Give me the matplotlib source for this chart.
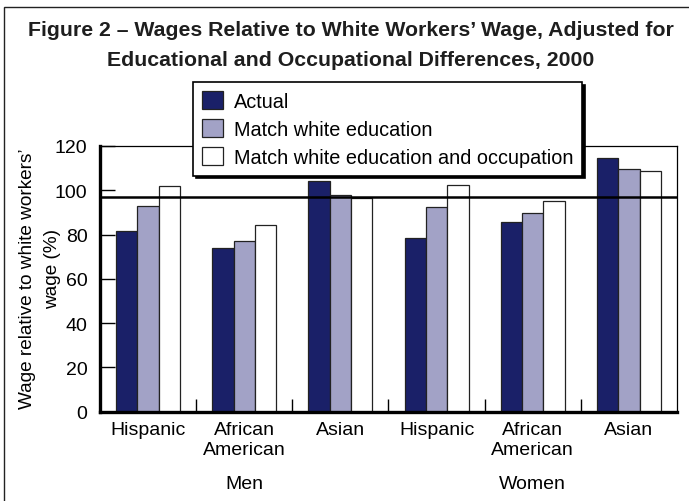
import numpy as np
import matplotlib
matplotlib.use("Agg")
import matplotlib.pyplot as plt
from matplotlib.patches import Rectangle
import matplotlib.transforms as mtransforms

plt.rcParams['font.family'] = ['Liberation Sans', 'DejaVu Sans']

groups = ['Hispanic', 'African\nAmerican', 'Asian', 'Hispanic', 'African\nAmerican', 'Asian']
sexes = ['Men', 'Women']
actual = [81.4, 73.8, 104.2, 78.5, 85.5, 114.7]
match_edu = [93.0, 77.3, 97.7, 92.6, 89.6, 109.5]
match_edu_occ = [101.8, 84.3, 96.5, 102.5, 95.0, 108.9]
series_names = ['Actual', 'Match white education', 'Match white education and occupation']
white_line = 97

navy = '#1a2068'
lavender = '#a2a2c6'

fig = plt.figure(figsize=(6.89, 5.02), dpi=100)
ax = fig.add_axes([0.1451, 0.1779, 0.8375, 0.5293])

x = np.arange(len(groups))
w = 0.222
edge = '#222222'
ax.bar(x - w, actual, w, color=navy, edgecolor=edge, linewidth=0.9, label=series_names[0])
ax.bar(x, match_edu, w, color=lavender, edgecolor=edge, linewidth=0.9, label=series_names[1])
ax.bar(x + w, match_edu_occ, w, color='white', edgecolor=edge, linewidth=0.9, label=series_names[2])

ax.axhline(white_line, color='black', linewidth=1.8, zorder=3)

ax.set_xlim(-0.5, len(groups) - 0.5)
ax.set_ylim(0, 120)

# ticks
ax.set_yticks(np.arange(0, 121, 20))
ax.tick_params(axis='y', direction='in', length=11, width=1, pad=9, labelsize=14)
ax.set_xticks(x[:-1] + 0.5)
ax.set_xticklabels([])
ax.tick_params(axis='x', which='major', direction='in', length=9.5, width=1)
ax.set_xticks(x, groups, minor=True)
ax.tick_params(axis='x', which='minor', length=0, pad=6.5, labelsize=14)
for lab in ax.get_xticklabels(minor=True):
    lab.set_linespacing(1.25)

for side in ['left', 'bottom']:
    ax.spines[side].set_linewidth(2.4)
for side in ['top', 'right']:
    ax.spines[side].set_linewidth(0.9)

trans = mtransforms.blended_transform_factory(ax.transData, ax.transAxes)
ax.text(1, -0.272, sexes[0], transform=trans, ha='center', va='center', fontsize=14)
ax.text(4, -0.272, sexes[1], transform=trans, ha='center', va='center', fontsize=14)

fig.text(28 / 689, 1 - 279 / 502, "Wage relative to white workers\u2019",
         rotation=90, ha='center', va='center', fontsize=13.7)
fig.text(53 / 689, 1 - 269 / 502, "wage (%)",
         rotation=90, ha='center', va='center', fontsize=13.7)

fig.text(351 / 689, 1 - 31 / 502,
         "Figure 2 \u2013 Wages Relative to White Workers\u2019 Wage, Adjusted for",
         ha='center', va='center', fontsize=15.3, fontweight='bold', color='#1e1e1e')
fig.text(351 / 689, 1 - 61 / 502,
         "Educational and Occupational Differences, 2000",
         ha='center', va='center', fontsize=15.3, fontweight='bold', color='#1e1e1e')

leg = fig.legend(loc='upper left', bbox_to_anchor=(193 / 689, 1 - 83 / 502),
                 borderaxespad=0, fontsize=14.3, frameon=True, fancybox=False,
                 shadow={'color': 'black', 'alpha': 1}, edgecolor='black',
                 handlelength=1.05, handleheight=1.0, handletextpad=0.55,
                 labelspacing=0.42, borderpad=0.45)
leg.get_frame().set_linewidth(1.2)
leg.get_frame().set_alpha(None)
leg.get_frame().set_facecolor('white')

# outer frame
fig.patches.append(Rectangle((3.5 / 689, -0.05), 1.1, 1 - 7.5 / 502 + 0.05,
                             transform=fig.transFigure, fill=False,
                             edgecolor='#222222', linewidth=1.0))

fig.savefig('out.png', dpi=100)
